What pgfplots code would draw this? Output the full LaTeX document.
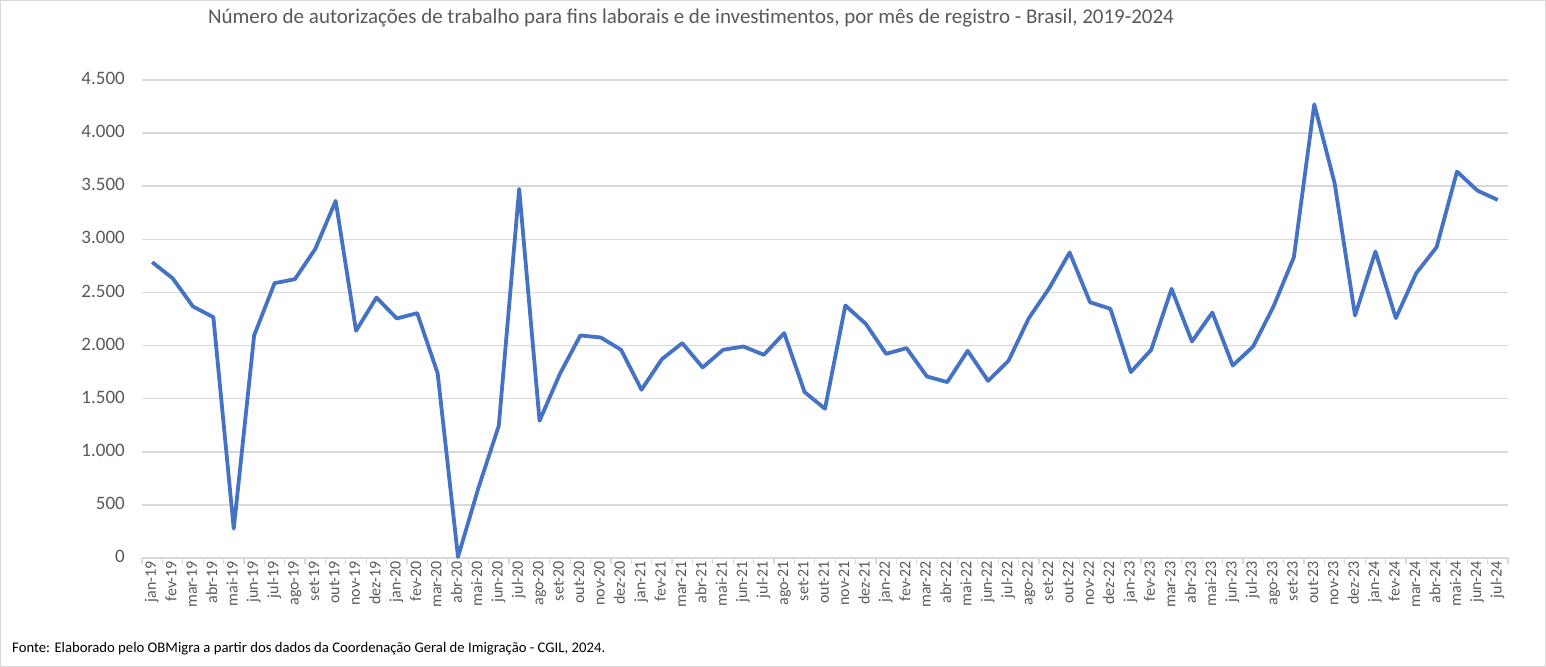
\documentclass[border=0pt]{standalone}
\usepackage{pgfplots}
\pgfplotsset{compat=1.18}
\usepackage{pgfplotstable}
\usepackage{fontspec}
\setmainfont{Carlito}

\definecolor{serie}{HTML}{4472C4}
\definecolor{grade}{HTML}{D9D9D9}
\definecolor{texto}{HTML}{595959}

% autorizacoes por mes, jan-19 .. jul-24 (indice 0..66)
\pgfplotstableread{
idx val
0 2785
1 2634
2 2368
3 2267
4 276
5 2095
6 2587
7 2625
8 2910
9 3362
10 2139
11 2452
12 2255
13 2305
14 1740
15 10
16 659
17 1245
18 3475
19 1292
20 1734
21 2095
22 2076
23 1960
24 1584
25 1872
26 2023
27 1794
28 1960
29 1991
30 1913
31 2117
32 1562
33 1405
34 2377
35 2205
36 1922
37 1976
38 1709
39 1656
40 1951
41 1668
42 1856
43 2258
44 2540
45 2876
46 2408
47 2346
48 1750
49 1960
50 2534
51 2038
52 2311
53 1812
54 1991
55 2368
56 2832
57 4271
58 3528
59 2283
60 2885
61 2258
62 2681
63 2926
64 3638
65 3459
66 3371
}\autorizacoes

\begin{document}
\begin{tikzpicture}
% moldura do grafico
\draw[grade, line width=1bp] (0.5bp,0.5bp) rectangle (1545.5bp,666.5bp);

\begin{axis}[
    at={(142bp,109bp)}, anchor=south west,
    scale only axis,
    width=1366bp, height=478bp,
    xmin=-0.5, xmax=66.5,
    ymin=0, ymax=4500,
    clip=false,
    axis lines*=left,
    y axis line style={draw=none},
    x axis line style={draw=grade, line width=1.5bp},
    ymajorgrids,
    grid style={draw=grade, line width=1.5bp},
    ytick={0,500,...,4500},
    xtick={0,...,66},
    xticklabels={jan-19,fev-19,mar-19,abr-19,mai-19,jun-19,jul-19,ago-19,set-19,out-19,nov-19,dez-19,
                 jan-20,fev-20,mar-20,abr-20,mai-20,jun-20,jul-20,ago-20,set-20,out-20,nov-20,dez-20,
                 jan-21,fev-21,mar-21,abr-21,mai-21,jun-21,jul-21,ago-21,set-21,out-21,nov-21,dez-21,
                 jan-22,fev-22,mar-22,abr-22,mai-22,jun-22,jul-22,ago-22,set-22,out-22,nov-22,dez-22,
                 jan-23,fev-23,mar-23,abr-23,mai-23,jun-23,jul-23,ago-23,set-23,out-23,nov-23,dez-23,
                 jan-24,fev-24,mar-24,abr-24,mai-24,jun-24,jul-24},
    minor xtick={-0.5,0.5,...,66.5},
    tick align=outside,
    major tick length=0pt,
    minor tick length=6bp,
    xtick style={draw=grade, line width=1.2bp},
    ytick style={draw=none},
    xticklabel style={rotate=90, anchor=east, inner sep=0pt, outer sep=3bp,
        font=\fontsize{16bp}{19bp}\selectfont, text=texto},
    yticklabel style={anchor=east, inner sep=0pt, xshift=-17bp,
        font=\fontsize{19bp}{23bp}\selectfont, text=texto},
    typeset ticklabels with strut,
    /pgf/number format/.cd, 1000 sep={.}, assume math mode=true,
]
\addplot[serie, line width=3.8bp, line join=round, no markers] table[x=idx, y=val] {\autorizacoes};
\end{axis}

\node[anchor=center, text=texto, font=\fontsize{21bp}{25bp}\selectfont] at (691bp,649bp)
  {Número de autorizações de trabalho para fins laborais e de investimentos, por mês de registro - Brasil, 2019-2024};
\node[anchor=west, inner sep=0pt, font=\fontsize{14.7bp}{17bp}\selectfont] at (12bp,18bp)
  {Fonte: Elaborado pelo OBMigra a partir dos dados da Coordenação Geral de Imigração - CGIL, 2024.};
\end{tikzpicture}
\end{document}
